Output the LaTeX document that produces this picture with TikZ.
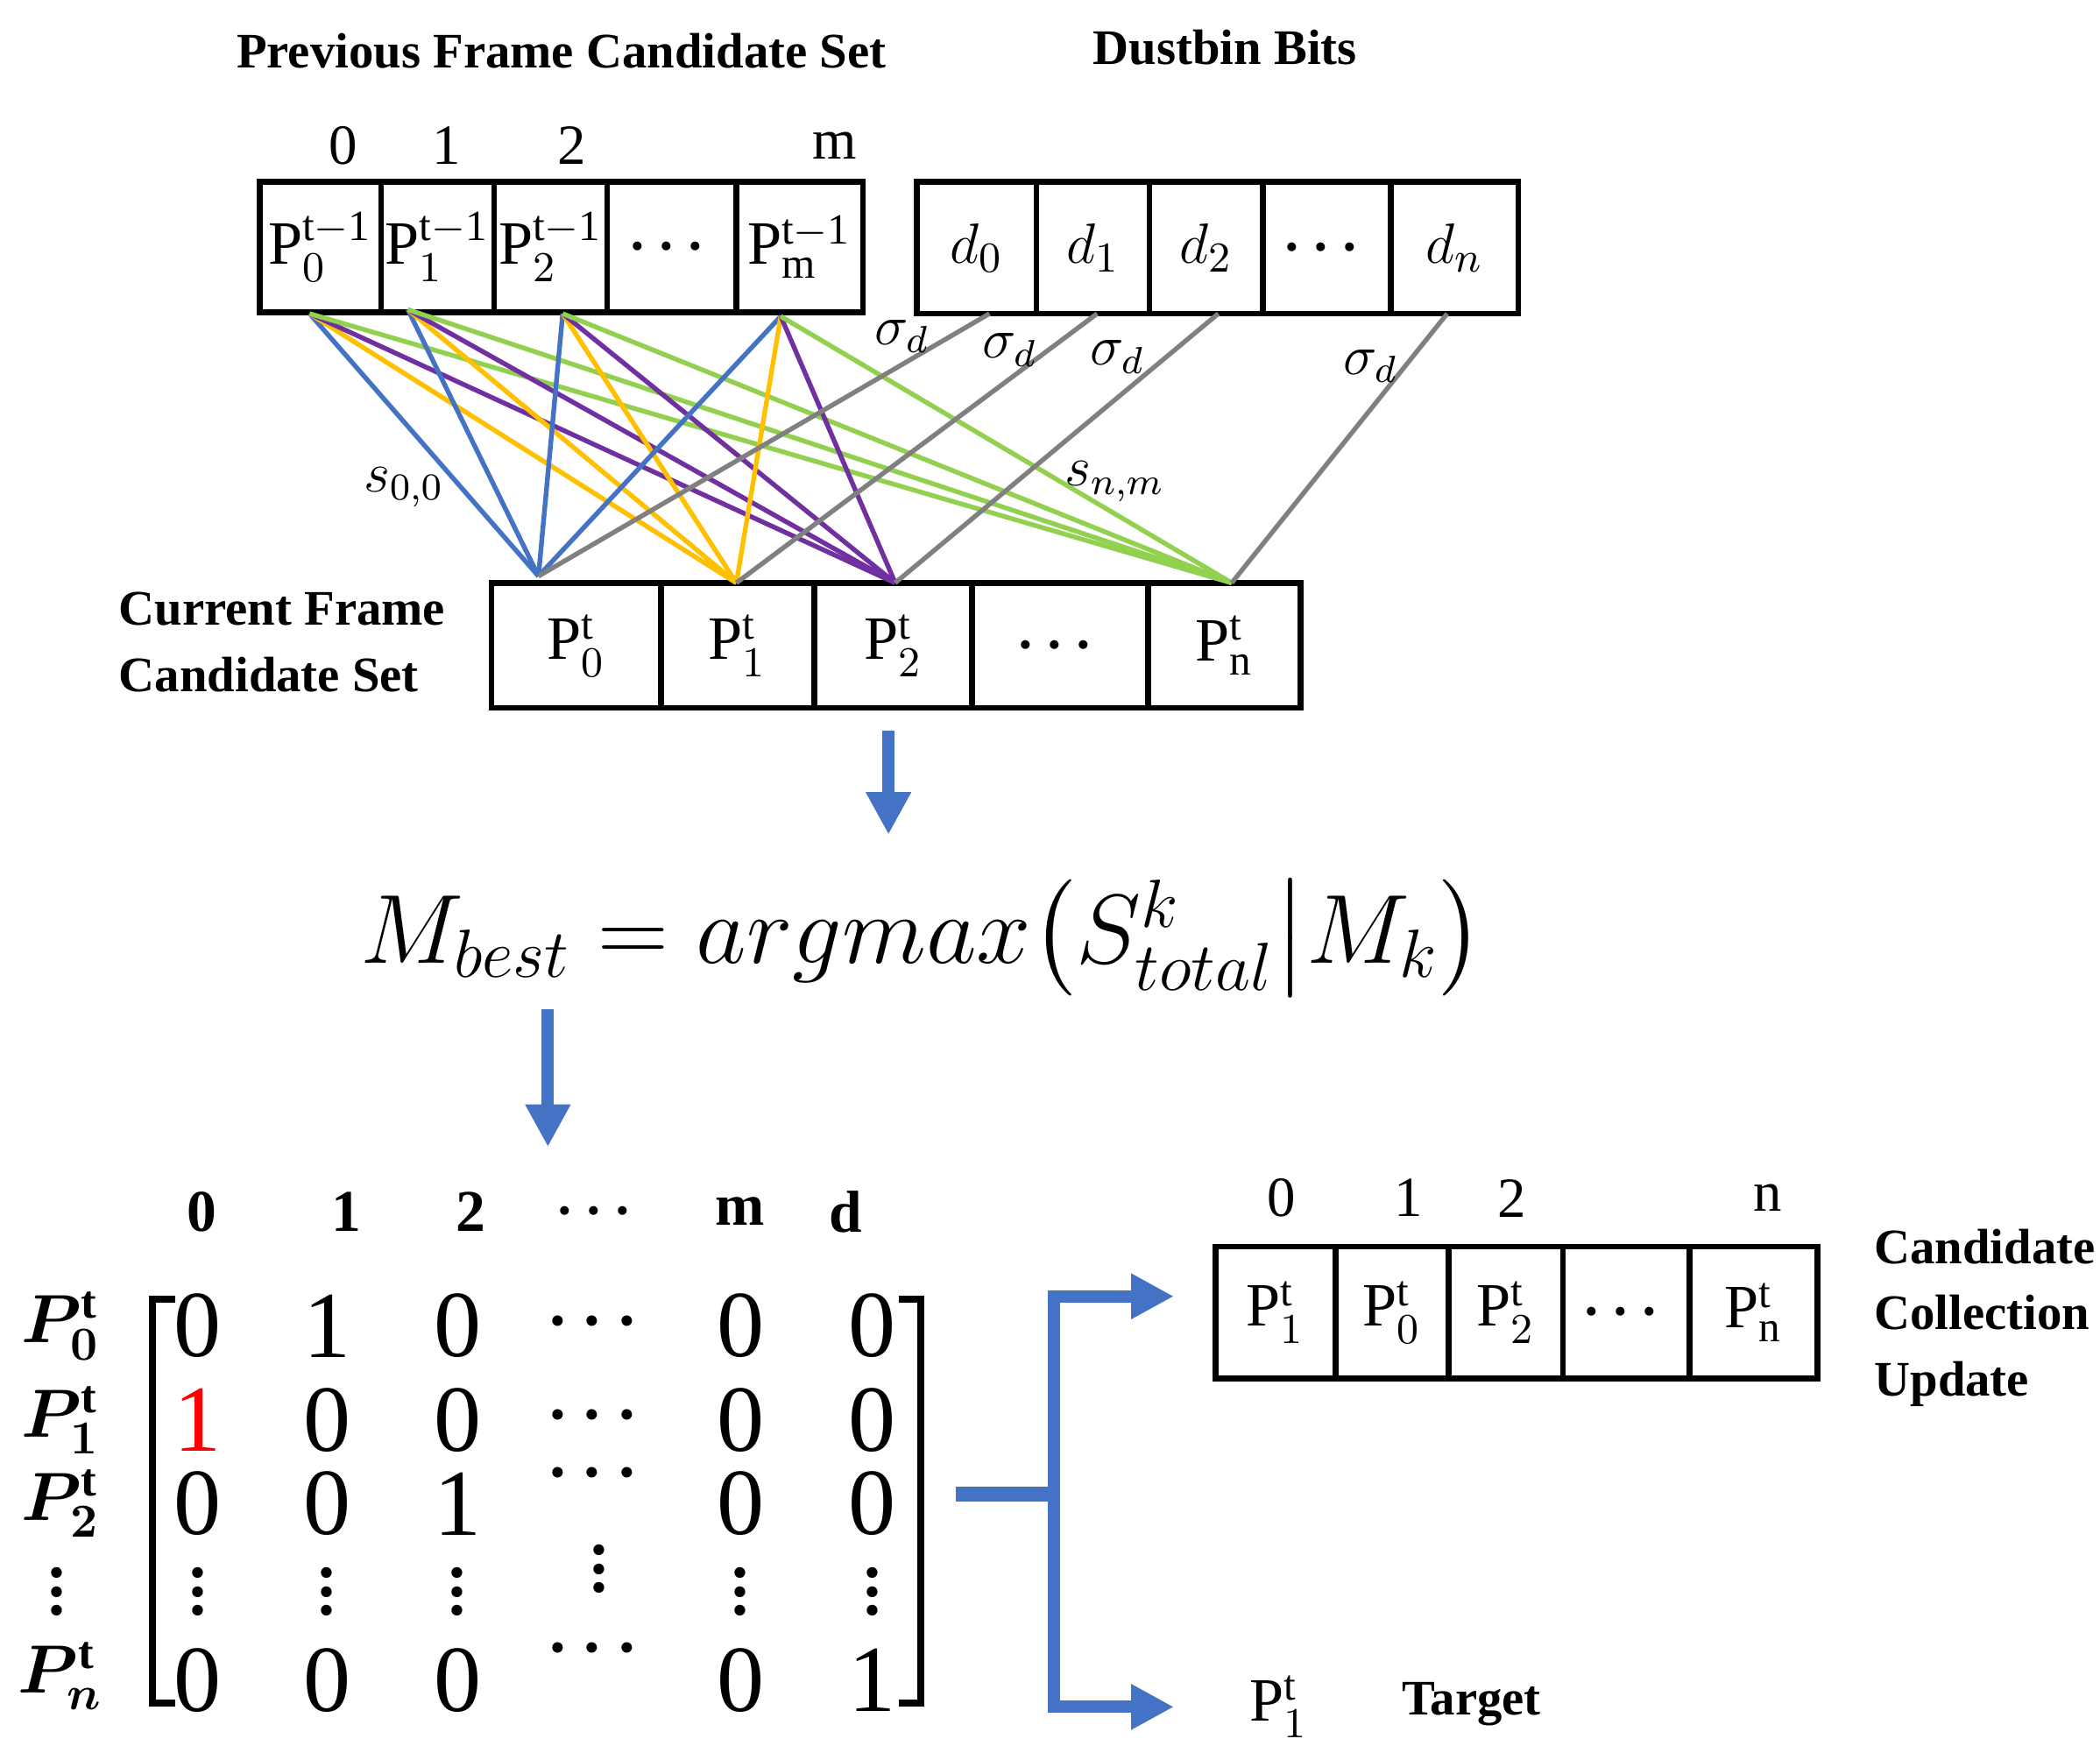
\documentclass[tikz,border=0pt]{standalone}
\usepackage{amsmath,amssymb,bm}
\usepackage{fontspec}
\setmainfont{Liberation Serif}
\usetikzlibrary{arrows.meta}
\definecolor{arrblue}{RGB}{68,114,196}
\begin{document}
\begin{tikzpicture}[x=0.01cm,y=-0.01cm,
  cell/.style={draw,line width=1.2pt,inner sep=0pt,font=\fontsize{13}{15}\selectfont},
  ttl/.style={font=\bfseries\fontsize{10.5}{13}\selectfont},
  idx/.style={font=\fontsize{12}{14}\selectfont},
  ent/.style={font=\fontsize{20}{22}\selectfont},
  sd/.style={font=\fontsize{14}{16}\selectfont},
  hd/.style={font=\bfseries\fontsize{12.5}{15}\selectfont},
  lbl/.style={font=\fontsize{12}{14}\selectfont},
  rl/.style={font=\fontsize{14}{16}\selectfont},
  barrow/.style={draw=arrblue,line width=2.6pt,-{Triangle[length=9pt,width=9pt]}}]
\useasboundingbox (0,0) rectangle (1560,1302);
\newcommand{\cell}[6]{\node[cell,minimum width={(#3-#2)*0.01cm},minimum height={(#5-#4)*0.01cm}] (#1) at ({(#2+#3)/2},{(#4+#5)/2}) {#6};}
% titles
\node[ttl] (t1) at (417,38) {Previous Frame Candidate Set};
\node[ttl] (t2) at (910,35) {Dustbin Bits};
% previous frame
\cell{a0}{193}{283}{135}{232}{$\mathrm{P}_0^{\mathrm{t-1}}$}
\cell{a1}{283}{367}{135}{232}{$\mathrm{P}_1^{\mathrm{t-1}}$}
\cell{a2}{367}{451}{135}{232}{$\mathrm{P}_2^{\mathrm{t-1}}$}
\cell{a3}{451}{547}{135}{232}{$\bm{\cdots}$}
\cell{am}{547}{641}{135}{232}{$\mathrm{P}_{\mathrm{m}}^{\mathrm{t-1}}$}
\node[idx] (i0) at (255,108) {0};
\node[idx] (i1) at (332,108) {1};
\node[idx] (i2) at (425,108) {2};
\node[idx] (im) at (620,108) {m};
% dustbin
\cell{d0}{681}{770}{135}{233}{$d_0$}
\cell{d1}{770}{854}{135}{233}{$d_1$}
\cell{d2}{854}{938}{135}{233}{$d_2$}
\cell{d3}{938}{1033}{135}{233}{$\bm{\cdots}$}
\cell{dn}{1033}{1128}{135}{233}{$d_n$}
% current frame
\cell{c0}{365}{491}{433}{526}{$\mathrm{P}_0^{\mathrm{t}}$}
\cell{c1}{491}{605}{433}{526}{$\mathrm{P}_1^{\mathrm{t}}$}
\cell{c2}{605}{722}{433}{526}{$\mathrm{P}_2^{\mathrm{t}}$}
\cell{c3}{722}{853}{433}{526}{$\bm{\cdots}$}
\cell{cn}{853}{966}{433}{526}{$\mathrm{P}_{\mathrm{n}}^{\mathrm{t}}$}
\node[ttl,align=left,anchor=west] (cf) at (76,477) {Current Frame\\[1pt]Candidate Set};
% connection points
\coordinate (pa0) at (230,233); \coordinate (pa1) at (303,230);
\coordinate (pa2) at (418,233); \coordinate (pam) at (580,235);
\coordinate (q0) at (400,428); \coordinate (q1) at (547,433);
\coordinate (q2) at (665,433); \coordinate (qn) at (915,433);
\coordinate (pd0) at (735,233); \coordinate (pd1) at (815,233);
\coordinate (pd2) at (905,233); \coordinate (pdn) at (1075,233);
\foreach \p in {pa0,pa1,pa2,pam}{
  \draw[line width=1pt,color={rgb,255:red,68;green,114;blue,196}] (\p) -- (q0);
  \draw[line width=1pt,color={rgb,255:red,255;green,192;blue,0}] (\p) -- (q1);
  \draw[line width=1pt,color={rgb,255:red,112;green,48;blue,160}] (\p) -- (q2);
  \draw[line width=1pt,color={rgb,255:red,146;green,208;blue,80}] (\p) -- (qn);
}
\draw[line width=1pt,gray] (pd0) -- (q0);
\draw[line width=1pt,gray] (pd1) -- (q1);
\draw[line width=1pt,gray] (pd2) -- (q2);
\draw[line width=1pt,gray] (pdn) -- (qn);
\node[lbl] (sg0) at (670,250) {$\sigma_d$};
\node[lbl] (sg1) at (750,260) {$\sigma_d$};
\node[lbl] (sg2) at (830,265) {$\sigma_d$};
\node[lbl] (sg3) at (1018,272) {$\sigma_d$};
\node[lbl] (s00) at (300,362) {$s_{0,0}$};
\node[lbl] (snm) at (828,358) {$s_{n,m}$};
% equation
\coordinate (ar1a) at (660,543); \coordinate (ar1b) at (660,620);
\draw[barrow] (ar1a) -- (ar1b);
\node[font=\fontsize{20.5}{24}\selectfont] (eq) at (685,697) {$M_{best}=argmax\bigl(S_{total}^k\big|M_k\bigr)$};
\coordinate (ar2a) at (407,750); \coordinate (ar2b) at (407,852);
\draw[barrow] (ar2a) -- (ar2b);
% matrix headers
\foreach \x/\t [count=\i] in {150/0,257/1,350/2,445/$\bm{\cdots}$,550/m,628/d}
  \node[hd] (h\i) at (\x,900) {\t};
% row labels
\node[rl] (r0) at (45,985) {$\bm{P_0^{\mathrm{t}}}$};
\node[rl] (r1) at (45,1055) {$\bm{P_1^{\mathrm{t}}}$};
\node[rl] (r2) at (45,1117) {$\bm{P_2^{\mathrm{t}}}$};
\node[rl] (r3) at (42,1172) {$\bm{\vdots}$};
\node[rl] (rn) at (45,1245) {$\bm{P_n^{\mathrm{t}}}$};
% entries: columns 1,2,3,5,6
\foreach \i/\xx in {1/147,2/243,3/340,5/550,6/648}{
  \node[sd] (m3\i) at (\xx,1172) {$\bm{\vdots}$};
}
\foreach \i/\xx/\a/\b/\c/\e in {1/147/0/1/0/0,2/243/1/0/0/0,3/340/0/0/1/0,5/550/0/0/0/0,6/648/0/0/0/1}{
  \node[ent] (m0\i) at (\xx,985) {\a};
  \ifnum\i=1 \node[ent,text=red] (m1\i) at (\xx,1055) {\b};
  \else \node[ent] (m1\i) at (\xx,1055) {\b}; \fi
  \node[ent] (m2\i) at (\xx,1117) {\c};
  \node[ent] (m4\i) at (\xx,1248) {\e};
}
\node[sd] (m04) at (445,982) {$\bm{\cdots}$};
\node[sd] (m14) at (445,1052) {$\bm{\cdots}$};
\node[sd] (m24) at (445,1095) {$\bm{\cdots}$};
\node[sd] (m34) at (445,1155) {$\bm{\vdots}$};
\node[sd] (m44) at (445,1225) {$\bm{\cdots}$};
% brackets
\coordinate (lb1) at (130,965); \coordinate (lb2) at (113,965);
\coordinate (lb3) at (113,1265); \coordinate (lb4) at (130,1265);
\draw[line width=1.5pt] (lb1) -- (lb2) -- (lb3) -- (lb4);
\coordinate (rb1) at (668,965); \coordinate (rb2) at (684,965);
\coordinate (rb3) at (684,1265); \coordinate (rb4) at (668,1265);
\draw[line width=1.5pt] (rb1) -- (rb2) -- (rb3) -- (rb4);
% split connector
\coordinate (sp0) at (710,1110); \coordinate (sp1) at (783,1110);
\coordinate (sp2) at (783,963); \coordinate (sp3) at (783,1268);
\coordinate (sp4) at (872,963); \coordinate (sp5) at (872,1268);
\draw[arrblue,line width=3pt] (sp0) -- (sp1);
\draw[barrow] (sp1) -- (sp2) -- (sp4);
\draw[barrow] (sp1) -- (sp3) -- (sp5);
% update boxes
\cell{u0}{903}{992}{926}{1024}{$\mathrm{P}_1^{\mathrm{t}}$}
\cell{u1}{992}{1076}{926}{1024}{$\mathrm{P}_0^{\mathrm{t}}$}
\cell{u2}{1076}{1161}{926}{1024}{$\mathrm{P}_2^{\mathrm{t}}$}
\cell{u3}{1161}{1255}{926}{1024}{$\bm{\cdots}$}
\cell{un}{1255}{1350}{926}{1024}{$\mathrm{P}_{\mathrm{n}}^{\mathrm{t}}$}
\node[idx] (j0) at (952,890) {0};
\node[idx] (j1) at (1046,890) {1};
\node[idx] (j2) at (1123,890) {2};
\node[idx] (jn) at (1313,890) {n};
\node[ttl,align=left,anchor=west] (cu) at (1380,979) {Candidate\\[1pt]Collection\\[1pt]Update};
\node[font=\fontsize{13}{15}\selectfont] (tp) at (950,1268) {$\mathrm{P}_1^{\mathrm{t}}$};
\node[ttl] (tg) at (1093,1266) {Target};
\end{tikzpicture}
\end{document}
